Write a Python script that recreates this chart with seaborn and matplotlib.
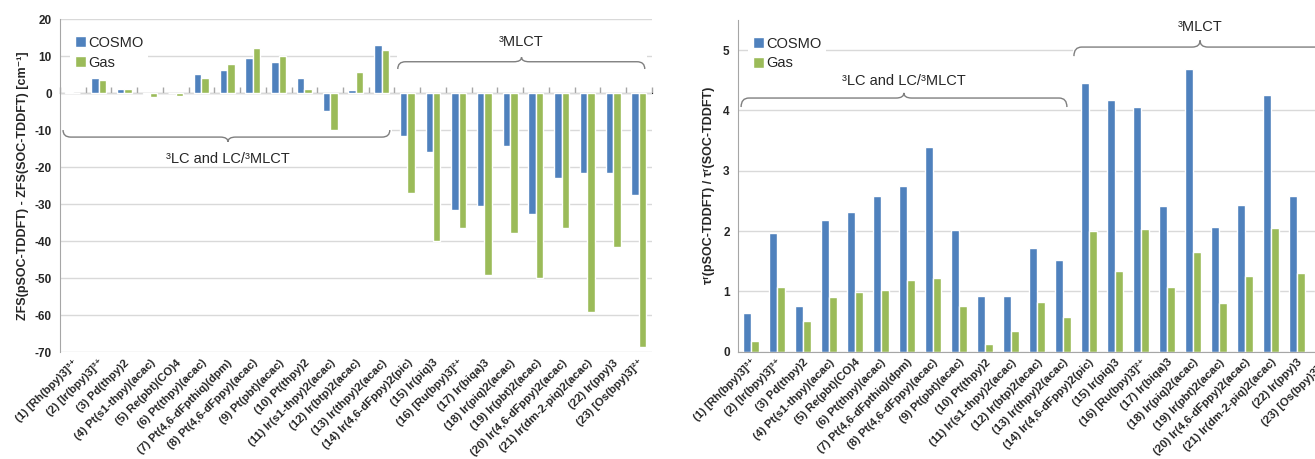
import numpy as np
import pandas as pd
import seaborn as sns
from matplotlib import pyplot as plt
from matplotlib.path import Path
from matplotlib.patches import PathPatch, Rectangle

labels = [
    "(1) [Rh(bpy)3]³⁺", "(2) [Ir(bpy)3]³⁺", "(3) Pd(thpy)2", "(4) Pt(s1-thpy)(acac)",
    "(5) Re(pbt)(CO)4", "(6) Pt(thpy)(acac)", "(7) Pt(4,6-dFpthiq)(dpm)",
    "(8) Pt(4,6-dFppy)(acac)", "(9) Pt(pbt)(acac)", "(10) Pt(thpy)2",
    "(11) Ir(s1-thpy)2(acac)", "(12) Ir(btp)2(acac)", "(13) Ir(thpy)2(acac)",
    "(14) Ir(4,6-dFppy)2(pic)", "(15) Ir(piq)3", "(16) [Ru(bpy)3]²⁺", "(17) Ir(biqa)3",
    "(18) Ir(piq)2(acac)", "(19) Ir(pbt)2(acac)", "(20) Ir(4,6-dFppy)2(acac)",
    "(21) Ir(dm-2-piq)2(acac)", "(22) Ir(ppy)3", "(23) [Os(bpy)3]²⁺",
]
models = ["COSMO", "Gas"]

zfs_cosmo = [0.2, 4.0, 1.0, -0.2, -0.1, 5.1, 6.1, 9.6, 8.3, 4.2, -4.8, 0.7, 13.1,
             -11.5, -15.8, -31.5, -30.4, -14.3, -32.7, -23.0, -21.7, -21.5, -27.5]
zfs_gas = [0.0, 3.6, 1.1, -1.2, -0.7, 4.2, 7.8, 12.1, 10.0, 1.1, -9.9, 5.6, 11.7,
           -27.0, -39.9, -36.6, -49.2, -37.7, -49.9, -36.4, -59.1, -41.7, -68.7]

tau_cosmo = [0.64, 1.96, 0.76, 2.18, 2.31, 2.58, 2.74, 3.40, 2.01, 0.93, 0.93, 1.72, 1.52,
             4.45, 4.17, 4.06, 2.41, 4.69, 2.06, 2.44, 4.26, 2.58, 1.85]
tau_gas = [0.17, 1.08, 0.51, 0.90, 0.99, 1.02, 1.19, 1.22, 0.75, 0.12, 0.35, 0.82, 0.57,
           2.00, 1.34, 2.03, 1.07, 1.65, 0.80, 1.25, 2.05, 1.31, 1.00]

BLUE = "#4F81BD"
GREEN = "#9BBB59"
GRID = "#D9D9D9"
AXIS = "#A6A6A6"

sns.set_style("white")
plt.rcParams["font.family"] = ["Liberation Sans", "DejaVu Sans"]
plt.rcParams["axes.unicode_minus"] = False


def long_df(a, b):
    return pd.DataFrame({
        "complex": labels * 2,
        "model": [models[0]] * len(labels) + [models[1]] * len(labels),
        "value": list(a) + list(b),
    })


def brace(ax, x0, x1, xm, y, yend, ytip, dx=0.3):
    verts = [(x0, yend), (x0, y), (x0 + dx, y), (xm - dx, y), (xm, y), (xm, ytip),
             (xm, y), (xm + dx, y), (x1 - dx, y), (x1, y), (x1, yend)]
    codes = [Path.MOVETO, Path.CURVE3, Path.CURVE3, Path.LINETO, Path.CURVE3, Path.CURVE3,
             Path.CURVE3, Path.CURVE3, Path.LINETO, Path.CURVE3, Path.CURVE3]
    ax.add_patch(PathPatch(Path(verts, codes), fill=False, edgecolor="#7F7F7F",
                           lw=1.0, zorder=4, clip_on=False))


def white_box(ax, x0, x1, y0, y1):
    ax.add_patch(Rectangle((x0, y0), x1 - x0, y1 - y0, facecolor="white",
                           edgecolor="none", zorder=1))


def style_axes(ax, ylim, step):
    ax.set_ylim(*ylim)
    ax.set_xlim(-0.5, len(labels) - 0.5)
    ax.set_yticks(np.arange(ylim[0], ylim[1] + 0.01, step))
    ax.yaxis.grid(True, color=GRID, lw=1.0, zorder=0)
    ax.set_axisbelow(True)
    ax.set_xlabel("")
    for s in ["top", "right"]:
        ax.spines[s].set_visible(False)
    ax.spines["left"].set_color(AXIS)
    ax.tick_params(axis="y", which="major", length=4, color=AXIS, width=1,
                   labelsize=8.5, pad=2)
    ax.set_xticks(range(len(labels)))
    ax.set_xticklabels(labels, rotation=45, ha="right", rotation_mode="anchor",
                       fontsize=8.2)
    ax.tick_params(axis="x", which="major", length=0, pad=4)
    h, l = ax.get_legend_handles_labels()
    leg = ax.legend(h, l, loc="upper left", bbox_to_anchor=(0.005, 0.985), frameon=True,
                    facecolor="white", edgecolor="none", fancybox=False, framealpha=1,
                    fontsize=10.5, handlelength=0.75, handleheight=0.75,
                    handletextpad=0.2, labelspacing=0.4, borderpad=0.3)
    leg.set_zorder(5)


def bold_ticks(ax):
    for t in ax.get_xticklabels() + ax.get_yticklabels():
        t.set_fontweight("bold")


fig = plt.figure(figsize=(13.15, 4.59), dpi=100)
ax1 = fig.add_axes([0.0456, 0.233, 0.450, 0.7255])
ax2 = fig.add_axes([0.5612, 0.2338, 0.4548, 0.7228])

# left: ZFS difference
sns.barplot(data=long_df(zfs_cosmo, zfs_gas), x="complex", y="value", hue="model",
            palette=[BLUE, GREEN], width=0.58, saturation=1, ax=ax1, zorder=2)
style_axes(ax1, (-70, 20), 10)
ax1.set_ylabel("ZFS(pSOC-TDDFT) - ZFS(SOC-TDDFT) [cm⁻¹]", fontsize=9,
               fontweight="bold", labelpad=4)
ax1.spines["bottom"].set_visible(False)
zero_ax = ax1.secondary_xaxis(70 / 90)
zero_ax.spines["bottom"].set_color(AXIS)
zero_ax.set_xticks(np.arange(-0.5, len(labels), 1.0))
zero_ax.set_xticklabels([])
zero_ax.tick_params(length=4, color=AXIS, width=1)

white_box(ax1, -0.5, 12.4, -19.0, -9.3)
white_box(ax1, 12.6, 22.3, 5.0, 17.0)
brace(ax1, -0.38, 12.32, 6.03, -11.9, -10.0, -13.2)
ax1.text(6.03, -17.8, "³LC and LC/³MLCT", ha="center", va="center", fontsize=10.5,
         zorder=5)
brace(ax1, 12.63, 22.23, 17.44, 8.46, 6.5, 9.7)
ax1.text(17.44, 13.9, "³MLCT", ha="center", va="center", fontsize=10.5, zorder=5)
bold_ticks(ax1)

# right: radiative lifetime ratio
sns.barplot(data=long_df(tau_cosmo, tau_gas), x="complex", y="value", hue="model",
            palette=[BLUE, GREEN], width=0.58, saturation=1, ax=ax2, zorder=2)
style_axes(ax2, (0, 5.5), 1)
ax2.set_yticks(range(0, 6))
ax2.set_ylabel("τʳ(pSOC-TDDFT) / τʳ(SOC-TDDFT)", fontsize=9, fontweight="bold",
               labelpad=6)
ax2.spines["bottom"].set_color(AXIS)
ax2.set_xticks(np.arange(-0.5, len(labels), 1.0), minor=True)
ax2.tick_params(axis="x", which="minor", length=4, color=AXIS, width=1)

white_box(ax2, 12.4, 23.0, 4.87, 5.5)
brace(ax2, -0.38, 12.15, 5.88, 4.205, 4.056, 4.29)
ax2.text(5.88, 4.49, "³LC and LC/³MLCT", ha="center", va="center", fontsize=10.5,
         zorder=5)
brace(ax2, 12.42, 22.12, 17.27, 5.05, 4.90, 5.16)
ax2.text(17.27, 5.39, "³MLCT", ha="center", va="center", fontsize=10.5, zorder=5)
bold_ticks(ax2)

fig.savefig("out.png", dpi=100)
